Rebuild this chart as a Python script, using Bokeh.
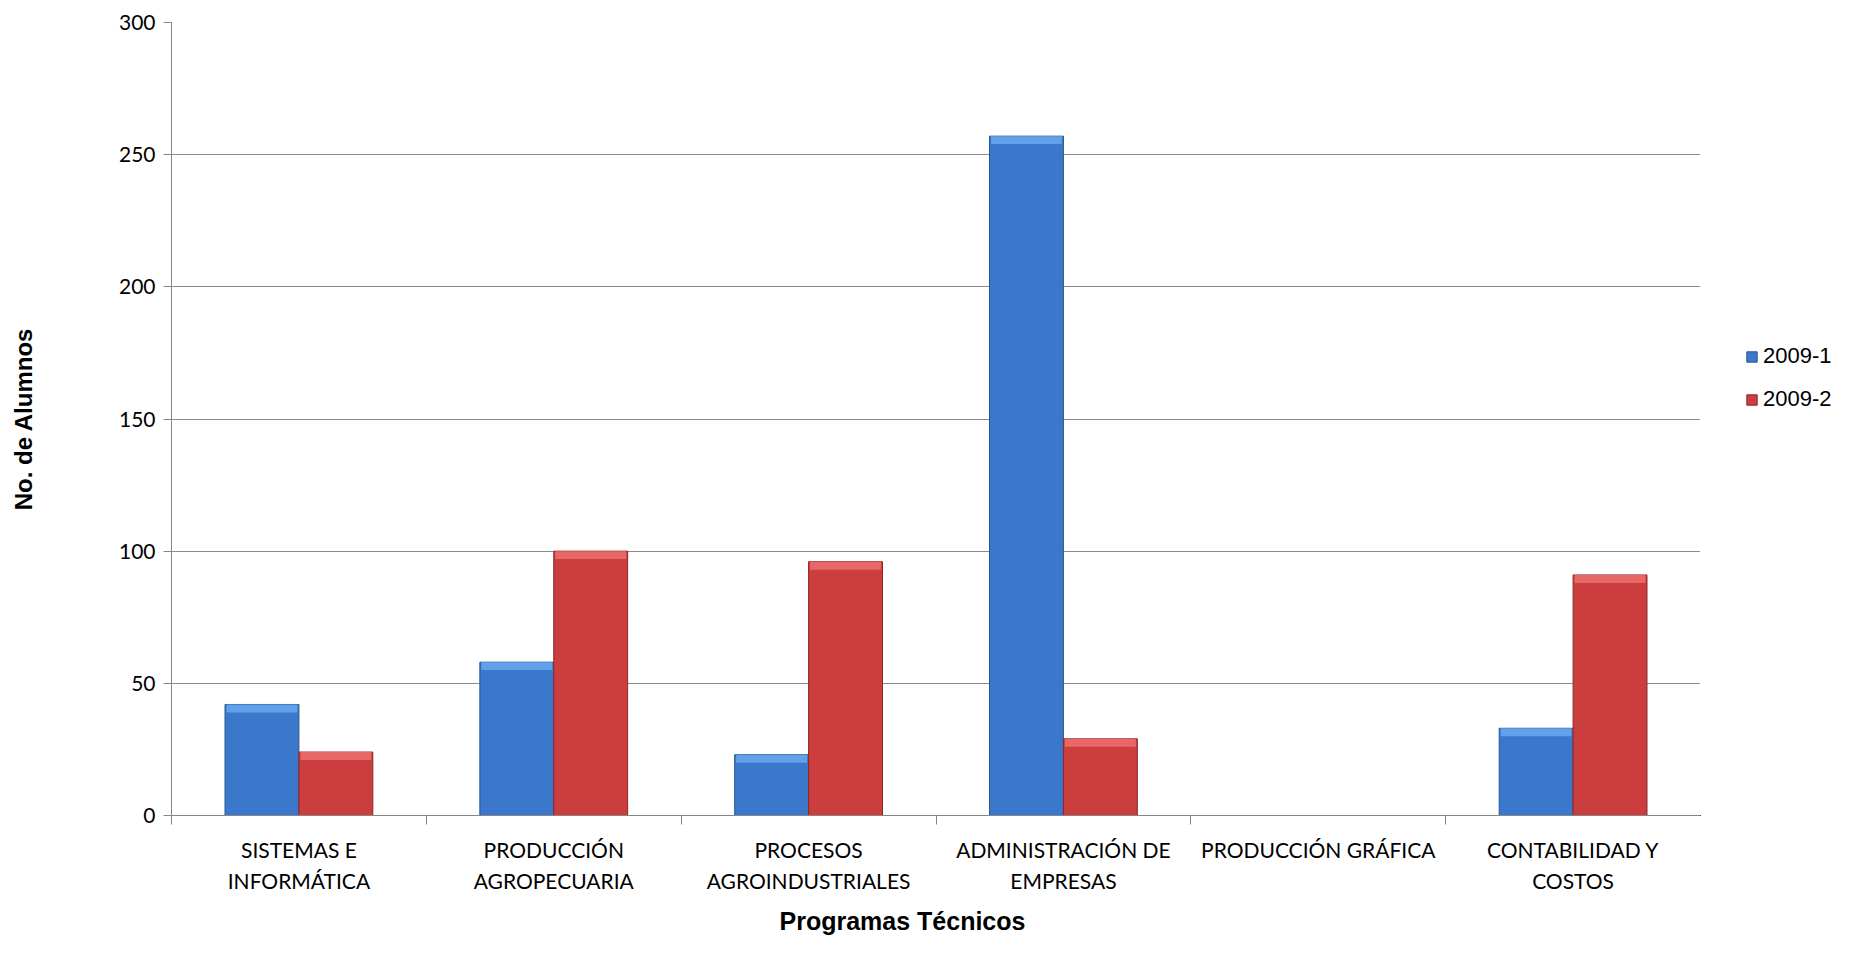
from bokeh.plotting import figure
from bokeh.models import ColumnDataSource, FixedTicker, Legend, LegendItem, Range1d, Title
from bokeh.layouts import row
from bokeh.embed import file_html
from bokeh.resources import INLINE

categories = ["SISTEMAS E\nINFORMÁTICA", "PRODUCCIÓN\nAGROPECUARIA", "PROCESOS\nAGROINDUSTRIALES",
              "ADMINISTRACIÓN DE\nEMPRESAS", "PRODUCCIÓN GRÁFICA", "CONTABILIDAD Y\nCOSTOS"]
series_names = ["2009-1", "2009-2"]
s2009_1 = [42, 58, 23, 257, 0, 33]
s2009_2 = [24, 100, 96, 29, 0, 91]
y_ticks = [0, 50, 100, 150, 200, 250, 300]

BLUE, BLUE_LINE, BLUE_TOP = "#3b78cc", "#2a568f", "#62a0ea"
RED, RED_LINE, RED_TOP = "#cc3d3d", "#8a2626", "#e86767"

n = len(categories)
centers = [i + 0.5 for i in range(n)]
bar_w = 0.29
bevel = 3.0  # height of lighter top bevel, in value units

src = ColumnDataSource(dict(
    x1=[c - bar_w / 2 for c in centers],
    x2=[c + bar_w / 2 for c in centers],
    v1=s2009_1, v2=s2009_2,
    b1=[v - bevel if v > 0 else 0 for v in s2009_1],
    b2=[v - bevel if v > 0 else 0 for v in s2009_2],
))

p = figure(width=1700, height=943, output_backend="svg", toolbar_location=None,
           x_range=Range1d(0, n), y_range=Range1d(0, 300),
           min_border_left=171, min_border_right=0, min_border_top=22, min_border_bottom=127)
p.outline_line_color = None
p.background_fill_color = "white"
p.border_fill_color = "white"

p.vbar(x="x1", top="v1", width=bar_w, source=src, fill_color=BLUE, line_color=BLUE_LINE, line_width=1)
p.vbar(x="x2", top="v2", width=bar_w, source=src, fill_color=RED, line_color=RED_LINE, line_width=1)
p.vbar(x="x1", top="v1", bottom="b1", width=bar_w * 0.96, source=src, fill_color=BLUE_TOP, line_color=None)
p.vbar(x="x2", top="v2", bottom="b2", width=bar_w * 0.96, source=src, fill_color=RED_TOP, line_color=None)

# axes
p.xaxis.ticker = FixedTicker(ticks=centers, minor_ticks=list(range(n + 1)))
p.xaxis.major_label_overrides = {c: lab for c, lab in zip(centers, categories)}
p.xaxis.major_tick_line_color = None
p.xaxis.minor_tick_line_color = "#868686"
p.xaxis.minor_tick_in = 0
p.xaxis.minor_tick_out = 9
p.xaxis.axis_line_color = "#868686"
p.xaxis.major_label_text_font = "Lato"
p.xaxis.major_label_text_font_size = "21px"
p.xaxis.major_label_text_color = "black"
p.xaxis.major_label_text_line_height = 1.27
p.xaxis.major_label_standoff = 12

p.yaxis.ticker = FixedTicker(ticks=y_ticks)
p.yaxis.minor_tick_line_color = None
p.yaxis.major_tick_in = 0
p.yaxis.major_tick_out = 8
p.yaxis.major_tick_line_color = "#868686"
p.yaxis.axis_line_color = "#868686"
p.yaxis.major_label_text_font = "Lato"
p.yaxis.major_label_text_font_size = "21px"
p.yaxis.major_label_text_color = "black"
p.yaxis.major_label_standoff = 8
p.yaxis.axis_label = "No. de Alumnos"
p.yaxis.axis_label_text_font = "Liberation Sans"
p.yaxis.axis_label_text_font_style = "bold"
p.yaxis.axis_label_text_font_size = "24px"
p.yaxis.axis_label_text_color = "black"
p.yaxis.axis_label_standoff = 79

p.xgrid.grid_line_color = None
p.ygrid.grid_line_color = "#8c8c8c"
p.ygrid.grid_line_width = 1

xtitle = Title(text="Programas Técnicos", align="left", offset=608, standoff=17,
               text_font="Liberation Sans", text_font_style="bold", text_font_size="25px",
               text_color="black")
p.add_layout(xtitle, "below")

# legend panel (its frame is aligned with the main plot's frame by the row layout)
lg = figure(width=136, height=943, output_backend="svg", toolbar_location=None,
            x_range=Range1d(1000, 1001), y_range=Range1d(1000, 1001),
            min_border_left=0, min_border_right=0, min_border_top=0, min_border_bottom=0)
lg.axis.visible = False
lg.grid.visible = False
lg.outline_line_color = None
d1 = lg.vbar(x="x1", top="v1", width=bar_w, source=src, fill_color=BLUE, line_color=BLUE_LINE)
d2 = lg.vbar(x="x2", top="v2", width=bar_w, source=src, fill_color=RED, line_color=RED_LINE)

legend = Legend(items=[LegendItem(label=series_names[0], renderers=[d1]),
                       LegendItem(label=series_names[1], renderers=[d2])],
                location=(45, 403), padding=0, border_line_color=None,
                background_fill_alpha=0, glyph_width=13, glyph_height=13,
                label_standoff=5, spacing=17, label_height=26, label_text_font="Liberation Sans",
                label_text_font_size="22px", label_text_color="black", margin=0)
lg.add_layout(legend)

layout = row(p, lg, spacing=0)
open("out.html", "w").write(file_html(layout, INLINE))
